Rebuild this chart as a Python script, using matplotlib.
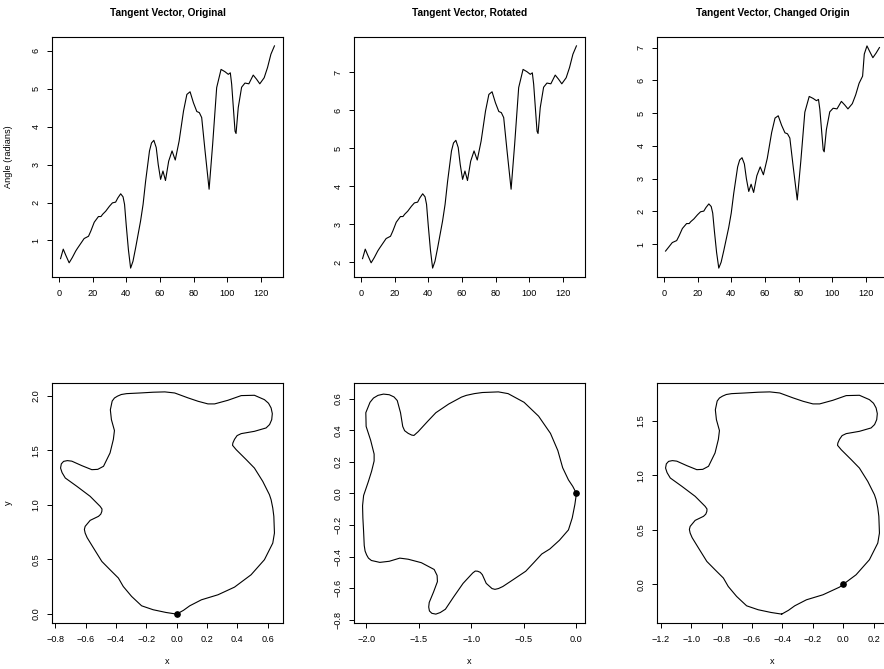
import numpy as np
import matplotlib
matplotlib.use("Agg")
import matplotlib.pyplot as plt
from matplotlib.ticker import FuncFormatter

plt.rcParams['font.family'] = ['Liberation Sans', 'DejaVu Sans']

# tangent angle of the original curve, read at key sample indices
tan_idx = [1, 2.6, 4, 6.1, 8, 10, 11, 13, 15, 17.6, 19, 21, 23.5, 25, 26, 27.8, 30,
           31.8, 33.7, 35, 36.7, 38.1, 39, 40, 41.3, 42.6, 44, 45.6, 48.5, 50, 51.5,
           53.8, 55, 56.4, 57.8, 59, 60.4, 61.8, 63.3, 65.2, 67.2, 69.1, 71.4, 74, 76,
           77.9, 79.9, 81.9, 83.4, 84.8, 86.8, 89.2, 91.3, 93.7, 96.3, 98.6, 100.6,
           101.8, 102.6, 104.6, 105.2, 106.5, 108.5, 110.5, 112.8, 115.4, 117.4,
           119.3, 121.9, 123.9, 125.9, 128]
tan_val = [0.52, 0.77, 0.62, 0.41, 0.55, 0.72, 0.79, 0.92, 1.05, 1.11, 1.25, 1.48,
           1.63, 1.63, 1.69, 1.77, 1.90, 1.99, 2.01, 2.12, 2.23, 2.15, 1.95, 1.40,
           0.75, 0.27, 0.45, 0.81, 1.51, 1.95, 2.56, 3.36, 3.57, 3.64, 3.45, 3.00,
           2.61, 2.83, 2.58, 3.09, 3.36, 3.12, 3.62, 4.41, 4.85, 4.92, 4.63, 4.40,
           4.37, 4.24, 3.36, 2.35, 3.53, 5.03, 5.51, 5.45, 5.38, 5.42, 5.12, 3.88,
           3.82, 4.50, 5.04, 5.15, 5.13, 5.36, 5.25, 5.13, 5.29, 5.56, 5.91, 6.13]
n_samples = 128

# outline of the original curve (counter-clockwise from the start point)
shape_x = [0.000, 0.045, 0.086, 0.163, 0.272, 0.381, 0.405, 0.490, 0.578, 0.633,
           0.644, 0.640, 0.633, 0.622, 0.611, 0.567, 0.512, 0.458, 0.392, 0.368,
           0.370, 0.381, 0.398, 0.425, 0.512, 0.589, 0.612, 0.626, 0.630, 0.622,
           0.605, 0.578, 0.512, 0.425, 0.337, 0.250, 0.206, 0.141, 0.075, -0.013,
           -0.078, -0.155, -0.242, -0.330, -0.365, -0.390, -0.410, -0.425, -0.437,
           -0.430, -0.410, -0.417, -0.439, -0.482, -0.520, -0.559, -0.625, -0.691,
           -0.720, -0.745, -0.760, -0.765, -0.755, -0.734, -0.657, -0.570, -0.504,
           -0.492, -0.493, -0.500, -0.515, -0.570, -0.603, -0.608, -0.603, -0.590,
           -0.548, -0.493, -0.439, -0.384, -0.352, -0.297, -0.231, -0.155, -0.070,
           0.000]
shape_y = [0.000, 0.035, 0.076, 0.131, 0.177, 0.247, 0.272, 0.360, 0.498, 0.650,
           0.742, 0.895, 0.971, 1.047, 1.093, 1.215, 1.337, 1.414, 1.505, 1.545,
           1.566, 1.600, 1.634, 1.652, 1.673, 1.704, 1.735, 1.780, 1.835, 1.887,
           1.930, 1.963, 2.003, 2.000, 1.957, 1.924, 1.924, 1.948, 1.979, 2.024,
           2.034, 2.031, 2.024, 2.018, 2.010, 1.995, 1.978, 1.950, 1.870, 1.780,
           1.680, 1.600, 1.475, 1.353, 1.325, 1.322, 1.359, 1.400, 1.405, 1.398,
           1.375, 1.337, 1.295, 1.246, 1.169, 1.078, 0.986, 0.962, 0.940, 0.915,
           0.895, 0.858, 0.803, 0.775, 0.742, 0.700, 0.605, 0.482, 0.406, 0.330,
           0.253, 0.162, 0.076, 0.040, 0.015, 0.000]

rotation = np.pi / 2      # rotated panel: angle shift
new_start_idx = 10        # changed origin: samples shifted by 10
new_start_pt = 6          # position of the new start point in the outline

titles = ["Tangent Vector, Original", "Tangent Vector, Rotated",
          "Tangent Vector, Changed Origin"]

# --- derived series
ti = np.array(tan_idx)
tv = np.array(tan_val)
rot_tv = tv + rotation
keep = ti > new_start_idx
wrap = ti <= new_start_idx
ch_ti = np.concatenate([ti[keep] - new_start_idx, ti[wrap] + n_samples - new_start_idx])
ch_tv = np.concatenate([tv[keep], tv[wrap] + 2 * np.pi])

sx = np.array(shape_x)
sy = np.array(shape_y)
rx = sx * np.cos(rotation) - sy * np.sin(rotation)
ry = sx * np.sin(rotation) + sy * np.cos(rotation)
cx = sx - sx[new_start_pt]
cy = sy - sy[new_start_pt]

tangents = [(ti, tv), (ti, rot_tv), (ch_ti, ch_tv)]
tan_yticks = [range(1, 7), range(2, 8), range(1, 8)]
shapes = [(sx, sy), (rx, ry), (cx, cy)]
shape_xticks = [np.arange(-0.8, 0.61, 0.2), np.arange(-2.0, 0.01, 0.5),
                np.arange(-1.2, 0.21, 0.2)]
shape_yticks = [np.arange(0, 2.01, 0.5), np.arange(-0.8, 0.61, 0.2),
                np.arange(0, 1.51, 0.5)]

fig = plt.figure(figsize=(8.84, 6.69), dpi=100)
W, H = 884.0, 669.0
lefts = [52, 354, 657]
aw, ah = 231, 240

fmt1 = FuncFormatter(lambda v, p: ('%.1f' % (round(v, 6) + 0.0)).replace('-', '\u2212'))


def style(ax):
    ax.margins(0.04)
    for s in ax.spines.values():
        s.set_linewidth(0.8)
    ax.tick_params(direction='out', length=3.8, width=0.7, labelsize=6.6,
                   pad=4.5, colors='black')
    ax.tick_params(axis='y', labelrotation=90)


for k in range(3):
    ax = fig.add_axes([lefts[k] / W, 1 - 277 / H, aw / W, ah / H])
    x, y = tangents[k]
    ax.plot(x, y, color='black', lw=0.8)
    style(ax)
    ax.set_xticks([0, 20, 40, 60, 80, 100, 120])
    ax.set_yticks(list(tan_yticks[k]))
    ax.text(0.5, 1 + 24 / ah, titles[k], transform=ax.transAxes, ha='center',
            va='center', fontsize=7.3, fontweight='bold')
    for lab in ax.get_yticklabels():
        lab.set_va('center')
    if k == 0:
        ax.set_ylabel("Angle (radians)", fontsize=6.6)
        ax.yaxis.set_label_coords(-(52 - 13) / aw, 0.5)

for k in range(3):
    ax = fig.add_axes([lefts[k] / W, 1 - 623 / H, aw / W, ah / H])
    x, y = shapes[k]
    ax.plot(x, y, color='black', lw=0.8)
    ax.plot([0], [0], 'o', color='black', markersize=3.8)
    style(ax)
    ax.set_xticks(shape_xticks[k])
    ax.set_yticks(shape_yticks[k])
    ax.xaxis.set_major_formatter(fmt1)
    ax.yaxis.set_major_formatter(fmt1)
    for lab in ax.get_yticklabels():
        lab.set_va('center')
    ax.set_xlabel("x", fontsize=6.6)
    ax.xaxis.set_label_coords(0.5, -(657 - 623) / ah)
    if k == 0:
        ax.set_ylabel("y", fontsize=6.6)
        ax.yaxis.set_label_coords(-(52 - 13) / aw, 0.5)

fig.savefig("out.png", dpi=100)
